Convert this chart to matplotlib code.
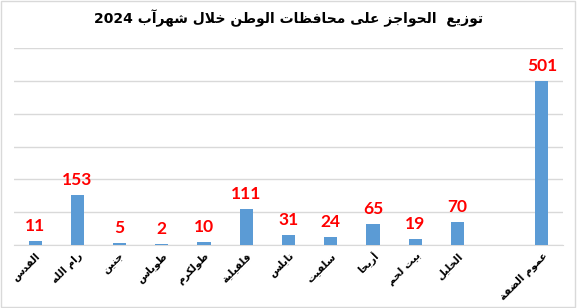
import re

import matplotlib
matplotlib.use("Agg")
import matplotlib.pyplot as plt
from matplotlib.patches import Rectangle

# data, right to left as in the source chart (one empty slot before the total)
governorates = ["القدس", "رام الله", "جنين", "طوباس", "طولكرم", "قلقيلية", "نابلس",
                "سلفيت", "أريحا", "بيت لحم", "الخليل", "", "عموم الضفة"]
barriers = [11, 153, 5, 2, 10, 111, 31, 24, 65, 19, 70, None, 501]
title = "توزيع  الحواجز على محافظات الوطن خلال شهرآب 2024"

# small arabic shaper: presentation forms + visual order (matplotlib does no shaping)
FORMS = {
    "ء": (0xFE80, 1), "آ": (0xFE81, 2), "أ": (0xFE83, 2), "ا": (0xFE8D, 2),
    "ب": (0xFE8F, 4), "ة": (0xFE93, 2), "ت": (0xFE95, 4), "ج": (0xFE9D, 4),
    "ح": (0xFEA1, 4), "خ": (0xFEA5, 4), "د": (0xFEA9, 2), "ر": (0xFEAD, 2),
    "ز": (0xFEAF, 2), "س": (0xFEB1, 4), "ش": (0xFEB5, 4), "ض": (0xFEBD, 4),
    "ط": (0xFEC1, 4), "ظ": (0xFEC5, 4), "ع": (0xFEC9, 4), "ف": (0xFED1, 4),
    "ق": (0xFED5, 4), "ك": (0xFED9, 4), "ل": (0xFEDD, 4), "م": (0xFEE1, 4),
    "ن": (0xFEE5, 4), "ه": (0xFEE9, 4), "و": (0xFEED, 2), "ى": (0xFEEF, 2),
    "ي": (0xFEF1, 4),
}
LAM_ALEF = {"ا": 0xFEFB, "آ": 0xFEF5, "أ": 0xFEF7}


def shape(text):
    items = []
    i = 0
    while i < len(text):
        c = text[i]
        if c == "ل" and i + 1 < len(text) and text[i + 1] in LAM_ALEF:
            items.append(("LA", text[i + 1]))
            i += 2
        else:
            items.append((c, None))
            i += 1

    def joins_next(it):
        return it[0] != "LA" and it[0] in FORMS and FORMS[it[0]][1] == 4

    def joins_prev(it):
        return it[0] == "LA" or (it[0] in FORMS and FORMS[it[0]][1] >= 2)

    out = []
    for k, it in enumerate(items):
        p = k > 0 and joins_next(items[k - 1]) and joins_prev(it)
        n = k + 1 < len(items) and joins_next(it) and joins_prev(items[k + 1])
        c, a = it
        if c == "LA":
            out.append(chr(LAM_ALEF[a] + (1 if p else 0)))
        elif c in FORMS:
            base, nf = FORMS[c]
            if nf == 4:
                off = 3 if (p and n) else 1 if p else 2 if n else 0
            elif nf == 2:
                off = 1 if p else 0
            else:
                off = 0
            out.append(chr(base + off))
        else:
            out.append(c)
    s = "".join(out)[::-1]
    return re.sub(r"[0-9]+", lambda m: m.group(0)[::-1], s)


plt.rcParams["font.family"] = ["DejaVu Sans"]

fig = plt.figure(figsize=(5.77, 3.08), dpi=100)
ax = fig.add_axes([14 / 577, 1 - 245 / 308, 549 / 577, 197 / 308])

x = list(range(len(governorates)))
heights = [v if v is not None else 0 for v in barriers]
bars = ax.bar(x, heights, width=0.31, color="#5B9BD5", zorder=3)

for xi, v in zip(x, barriers):
    if v is None:
        continue
    ax.annotate(str(v), (xi, v), xytext=(0, 5), textcoords="offset points",
                ha="center", va="bottom", color="#FF0000", fontsize=12.5,
                fontweight="bold", family=["Lato", "DejaVu Sans"])

ax.set_xlim(-0.5, len(governorates) - 0.5)
ax.set_ylim(0, 600)
ax.set_yticks(range(0, 601, 100))
ax.yaxis.grid(True, color="#d9d9d9", linewidth=1, zorder=0)
ax.tick_params(axis="y", left=False, labelleft=False)
ax.tick_params(axis="x", length=0, pad=4)
ax.set_xticks(x)
ax.set_xticklabels([shape(g) for g in governorates], rotation=45, ha="right",
                   rotation_mode="anchor", fontsize=7.5, fontweight="bold")
for side in ["left", "right", "top"]:
    ax.spines[side].set_visible(False)
ax.spines["bottom"].set_color("#d9d9d9")

fig.text(0.5, 1 - 18 / 308, shape(title), ha="center", va="center",
         fontsize=10, fontweight="bold")

fig.patches.append(Rectangle((0.002, 0.003), 0.995, 0.994, transform=fig.transFigure,
                             fill=False, edgecolor="#d9d9d9", linewidth=1))

fig.savefig("out.png", dpi=100)
plt.close(fig)
